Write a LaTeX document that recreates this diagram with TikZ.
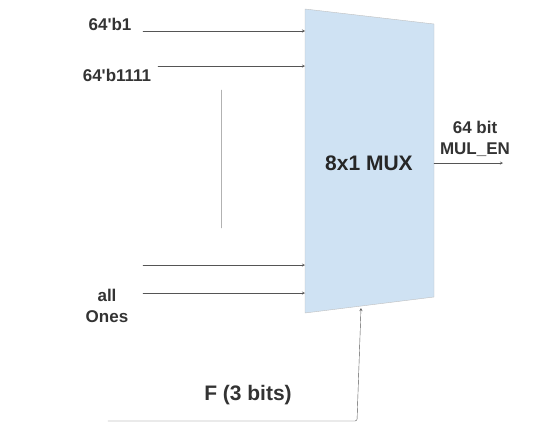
\documentclass[tikz,border=0pt]{standalone}
\usepackage{fontspec}
\setmainfont{Liberation Sans}
\definecolor{muxblue}{HTML}{CFE2F3}
\definecolor{wiregray}{HTML}{555555}
\definecolor{txtgray}{HTML}{333333}
\tikzset{
  wire/.style={->, wiregray, thin},
  lbl/.style={txtgray, font=\bfseries\fontsize{17}{21}\selectfont, inner sep=0pt, align=center},
  biglbl/.style={lbl, font=\bfseries\fontsize{21}{25}\selectfont}
}
\begin{document}
\begin{tikzpicture}[x=1pt, y=-1pt, line join=round, line cap=round, >=stealth]
	\useasboundingbox (0,0) rectangle (553,426);
	% 1. Khoi MUX
	\coordinate (TL) at (305,9);
	\coordinate (TR) at (434,24);
	\coordinate (BR) at (434,297);
	\coordinate (BL) at (305,313);
	\fill[muxblue, draw=gray!50] (TL) -- (TR) -- (BR) -- (BL) -- cycle;
	\node[biglbl, text=black!85] (mux) at (369,163) {8x1 MUX};
	% 2. Cac dau vao
	\foreach \y/\x [count=\i] in {31/143, 66/158, 265/143, 293/143} {
		\coordinate (s\i) at (\x,\y);
		\coordinate (e\i) at (305,\y);
		\draw[wire] (s\i) -- (e\i);
	}
	\coordinate (dotA) at (221,90);
	\coordinate (dotB) at (221,228);
	\draw[gray!60, thin] (dotA) -- (dotB);
	\node[lbl] (in1) at (110,24) {64\textquotesingle b1};
	\node[lbl] (in2) at (117,75) {64\textquotesingle b1111};
	\node[lbl] (in8) at (107,306) {all\\Ones};
	% 3. Dau ra
	\coordinate (outA) at (434,163);
	\coordinate (outB) at (503,163);
	\draw[wire] (outA) -- (outB);
	\node[lbl] (out) at (475,139) {64 bit\\MUL\_EN};
	% 4. Tin hieu chon
	\coordinate (selA) at (108,421);
	\coordinate (selB) at (357,421);
	\coordinate (selC) at (361,308);
	\draw[wire, rounded corners=2pt] (selA) -- (selB) -- (selC);
	\node[biglbl] (sel) at (248,395) {F (3 bits)};
\end{tikzpicture}
\end{document}
